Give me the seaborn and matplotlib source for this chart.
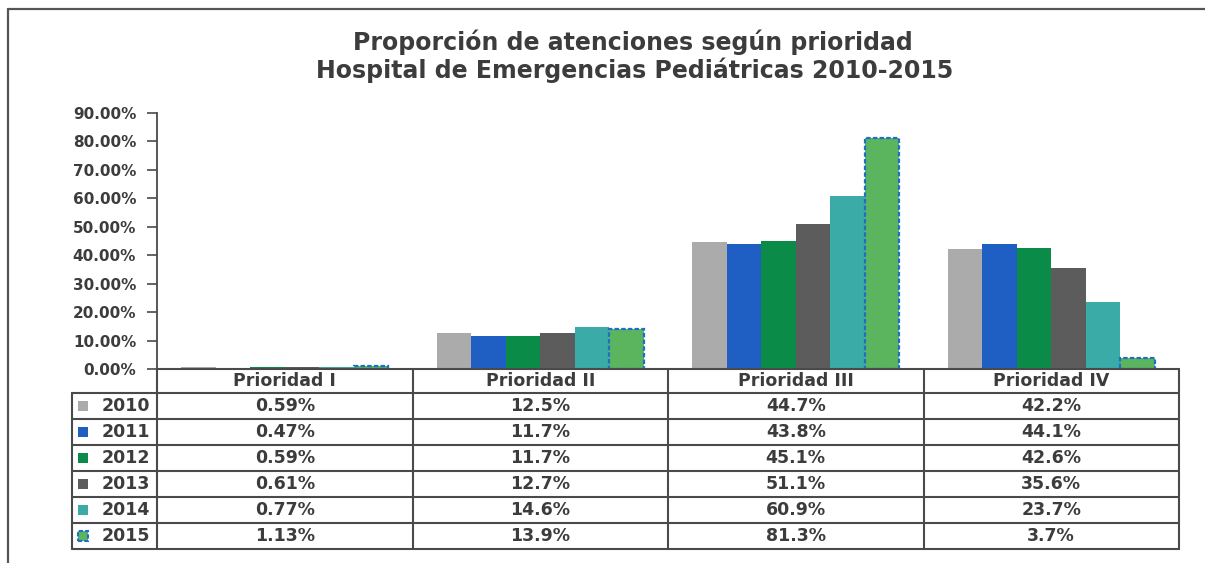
import pandas as pd
import matplotlib.pyplot as plt
import seaborn as sns
from matplotlib.patches import Rectangle

prioridades = ["Prioridad I", "Prioridad II", "Prioridad III", "Prioridad IV"]
anios = ["2010", "2011", "2012", "2013", "2014", "2015"]
v2010 = [0.59, 12.5, 44.7, 42.2]
v2011 = [0.47, 11.7, 43.8, 44.1]
v2012 = [0.59, 11.7, 45.1, 42.6]
v2013 = [0.61, 12.7, 51.1, 35.6]
v2014 = [0.77, 14.6, 60.9, 23.7]
v2015 = [1.13, 13.9, 81.3, 3.7]
etiquetas = [
    ["0.59%", "12.5%", "44.7%", "42.2%"],
    ["0.47%", "11.7%", "43.8%", "44.1%"],
    ["0.59%", "11.7%", "45.1%", "42.6%"],
    ["0.61%", "12.7%", "51.1%", "35.6%"],
    ["0.77%", "14.6%", "60.9%", "23.7%"],
    ["1.13%", "13.9%", "81.3%", "3.7%"],
]
yticks = [0, 10, 20, 30, 40, 50, 60, 70, 80, 90]

colores = ["#ababab", "#1f5fc4", "#0a8c48", "#5c5c5c", "#3aaba6", "#5ab55e"]
borde_2015 = "#1f6fc8"
gris_txt = "#3c3c3c"
linea = "#4a4a4a"

series = [v2010, v2011, v2012, v2013, v2014, v2015]
df = pd.DataFrame(
    [(p, a, v) for a, vals in zip(anios, series) for p, v in zip(prioridades, vals)],
    columns=["prioridad", "anio", "valor"],
)

sns.set_theme(style="white")
plt.rcParams["font.family"] = ["DejaVu Sans"]

W, H = 1205, 563
fig = plt.figure(figsize=(W / 100, H / 100), dpi=100)
ax_l, ax_r, ax_t, ax_b = 157, 1179, 113, 369
ax = fig.add_axes([ax_l / W, 1 - ax_b / H, (ax_r - ax_l) / W, (ax_b - ax_t) / H])

sns.barplot(data=df, x="prioridad", y="valor", hue="anio", order=prioridades,
            hue_order=anios, palette=colores, saturation=1, width=0.81,
            linewidth=0, legend=False, ax=ax)
# 2015 bars have a dotted blue outline
for bar in ax.containers[5]:
    bar.set_edgecolor(borde_2015)
    bar.set_linewidth(1.6)
    bar.set_linestyle((0, (2, 1)))

ax.set_xlim(-0.5, 3.5)
ax.set_ylim(0, 90)
ax.set_yticks(yticks)
ax.set_yticklabels([f"{t:.2f}%" for t in yticks], fontsize=11,
                   fontweight="bold", color=gris_txt)
ax.tick_params(axis="y", left=True, length=7, width=1.2, color=linea, pad=8)
ax.set_xticks([])
ax.set_xlabel("")
ax.set_ylabel("")
for s in ["top", "right"]:
    ax.spines[s].set_visible(False)
for s in ["left", "bottom"]:
    ax.spines[s].set_color(linea)
    ax.spines[s].set_linewidth(1.3)

# data table under the axis (axes-fraction coordinates)
aw, ah = ax_r - ax_l, ax_b - ax_t
def fx(px):
    return (px - ax_l) / aw
def fy(py):
    return (ax_b - py) / ah

tab_l = 72
filas = [369, 393] + [393 + 26 * (i + 1) for i in range(6)]
kw = dict(transform=ax.transAxes, clip_on=False, color=linea, lw=1.5)
for i, y in enumerate(filas):
    x0 = ax_l if i == 0 else tab_l
    ax.plot([fx(x0), 1], [fy(y), fy(y)], **kw)
ax.plot([fx(tab_l)] * 2, [fy(filas[1]), fy(filas[-1])], **kw)
for j in range(5):
    ax.plot([j / 4] * 2, [fy(filas[0]), fy(filas[-1])], **kw)

for j, p in enumerate(prioridades):
    ax.text((j + 0.5) / 4, fy((filas[0] + filas[1]) / 2), p, transform=ax.transAxes,
            ha="center", va="center", fontsize=12.5, fontweight="bold", color=gris_txt)

for i, a in enumerate(anios):
    yc = fy((filas[i + 1] + filas[i + 2]) / 2)
    sq = Rectangle((fx(78), yc - 5 / ah), 10 / aw, 10 / ah, transform=ax.transAxes,
                   clip_on=False, facecolor=colores[i], lw=0)
    if a == "2015":
        sq.set_edgecolor(borde_2015)
        sq.set_linewidth(1.5)
        sq.set_linestyle((0, (2, 1)))
    ax.add_patch(sq)
    ax.text(fx(150), yc, a, transform=ax.transAxes, ha="right", va="center",
            fontsize=12.5, fontweight="bold", color=gris_txt)
    for j in range(4):
        ax.text((j + 0.5) / 4, yc, etiquetas[i][j], transform=ax.transAxes,
                ha="center", va="center", fontsize=12.5, fontweight="bold", color=gris_txt)

fig.text(0.525, 1 - 42 / H, "Proporción de atenciones según prioridad", ha="center",
         va="center", fontsize=17, fontweight="bold", color=gris_txt)
fig.text(0.527, 1 - 70 / H, "Hospital de Emergencias Pediátricas 2010-2015", ha="center",
         va="center", fontsize=17, fontweight="bold", color=gris_txt)

# outer chart frame
fig.add_artist(plt.Line2D([8 / W, 1], [1 - 9 / H] * 2, color="#555555", lw=1.6))
fig.add_artist(plt.Line2D([8 / W] * 2, [0, 1 - 9 / H], color="#555555", lw=1.6))

fig.savefig("out.png", dpi=100)
